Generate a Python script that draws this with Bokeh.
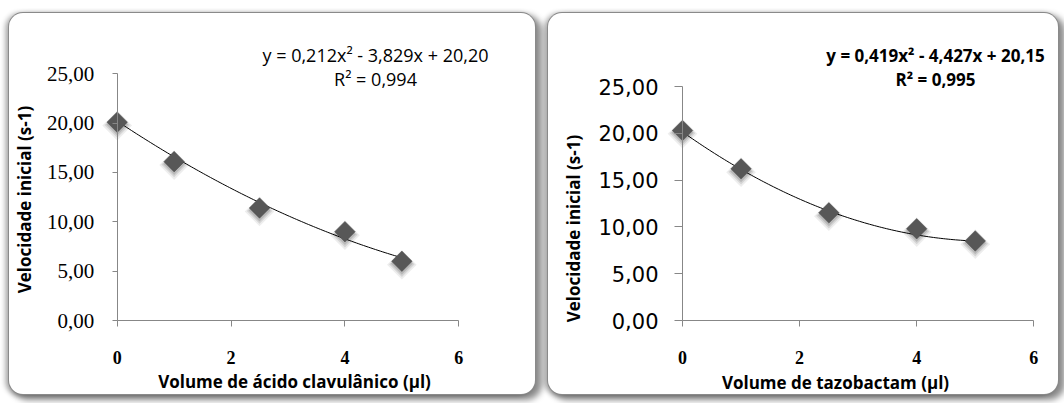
import numpy as np
from bokeh.plotting import figure
from bokeh.models import Range1d, FixedTicker, Label, ColumnDataSource
from bokeh.layouts import row
from bokeh.transform import dodge
from bokeh.embed import file_html
from bokeh.resources import INLINE

# ---------------- data ----------------
x_clav = [0, 1, 2.5, 4, 5]
y_clav = [20.1, 16.1, 11.4, 9.0, 6.0]
coef_clav = [0.212, -3.829, 20.20]
eq_clav = "y = 0,212x² - 3,829x + 20,20"
r2_clav = "R² = 0,994"
xtitle_clav = "Volume de ácido clavulânico (µl)"

x_tazo = [0, 1, 2.5, 4, 5]
y_tazo = [20.3, 16.2, 11.5, 9.8, 8.5]
coef_tazo = [0.419, -4.427, 20.15]
eq_tazo = "y = 0,419x² - 4,427x + 20,15"
r2_tazo = "R² = 0,995"
xtitle_tazo = "Volume de tazobactam (µl)"

ytitle = "Velocidade inicial (s-1)"

x_ticks = [0, 2, 4, 6]
x_tick_labels = ["0", "2", "4", "6"]
y_ticks = [0, 5, 10, 15, 20, 25]
y_tick_labels = ["0,00", "5,00", "10,00", "15,00", "20,00", "25,00"]

SANS = "Open Sans"
SERIF = "Liberation Serif"
AX = "#878787"


def make_panel(xs, ys, coef, eq, r2, xtitle, cfg):
    W, H = cfg["w"], cfg["h"]
    # pixel anchors (inside the panel) of x=0, x=6, y=0, y=25
    px0, px6, py0, py25 = cfg["px0"], cfg["px6"], cfg["py0"], cfg["py25"]
    kx = (px6 - px0) / 6.0
    ky = (py0 - py25) / 25.0
    xr = Range1d(-px0 / kx, (W - px0) / kx)
    yr = Range1d(-(H - py0) / ky, py0 / ky)
    p = figure(width=W, height=H, x_range=xr, y_range=yr,
               output_backend="svg", toolbar_location=None,
               min_border_left=0, min_border_right=0, min_border_top=0, min_border_bottom=0)
    p.grid.visible = False
    p.outline_line_color = None
    p.background_fill_color = None
    p.border_fill_color = None
    p.margin = cfg["margin"]
    p.styles = {
        "background-color": "white",
        "border-radius": "14px",
        "box-shadow": ("0 0 0 1px #8a8a8a, 5px 4px 6px 2px rgba(0,0,0,0.45), "
                       "-3px 1px 5px 1px rgba(0,0,0,0.3)"),
    }

    # axes
    xa = p.xaxis[0]
    xa.ticker = FixedTicker(ticks=x_ticks)
    xa.major_label_overrides = dict(zip(x_ticks, x_tick_labels))
    xa.fixed_location = 0
    xa.bounds = (0, 6)
    xa.axis_line_color = AX
    xa.major_tick_line_color = AX
    xa.major_tick_in = 0
    xa.major_tick_out = 6
    xa.minor_tick_line_color = None
    xa.major_label_standoff = cfg["xstand"]
    xa.major_label_text_font = SERIF
    xa.major_label_text_font_style = "bold"
    xa.major_label_text_font_size = "18px"
    xa.major_label_text_color = "black"

    ya = p.yaxis[0]
    ya.ticker = FixedTicker(ticks=y_ticks)
    ya.major_label_overrides = dict(zip(y_ticks, y_tick_labels))
    ya.fixed_location = 0
    ya.bounds = (0, 25)
    ya.axis_line_color = AX
    ya.major_tick_line_color = AX
    ya.major_tick_in = 0
    ya.major_tick_out = cfg["ytick"]
    ya.minor_tick_line_color = None
    ya.major_label_standoff = cfg["ystand"]
    ya.major_label_text_font = cfg["yfont"]
    ya.major_label_text_font_style = "normal"
    ya.major_label_text_font_size = cfg["ysize"]
    ya.major_label_text_color = "black"

    # trend line (from the fitted polynomial shown in the chart)
    xx = np.linspace(min(xs), max(xs), 120)
    yy = np.polyval(coef, xx)
    p.line(xx, yy, line_color="black", line_width=1)

    src = ColumnDataSource(dict(x=xs, y=ys))
    # soft shadow under markers
    for s, a, d in [(21, 0.07, -0.35), (18, 0.10, -0.3), (15.5, 0.13, -0.25)]:
        p.scatter(x="x", y=dodge("y", d, range=p.y_range), source=src, marker="square",
                  angle=np.pi / 4, size=s, fill_color="black", fill_alpha=a, line_color=None)
    p.scatter(x="x", y="y", source=src, marker="square", angle=np.pi / 4, size=14.5,
              fill_color="#575757", line_color="#4a4a4a", line_width=0.5)

    # texts (screen units relative to the panel's bottom-left corner)
    p.add_layout(Label(x=cfg["eqx"], y=cfg["eqy"], x_units="screen", y_units="screen", text=eq,
                       text_align="center", text_baseline="middle", text_font=SANS,
                       text_font_size=cfg["eqsize"], text_font_style=cfg["eqstyle"], text_color="black"))
    p.add_layout(Label(x=cfg["eqx"], y=cfg["eqy"] - 24, x_units="screen", y_units="screen", text=r2,
                       text_align="center", text_baseline="middle", text_font=SANS,
                       text_font_size=cfg["eqsize"], text_font_style=cfg["eqstyle"], text_color="black"))
    p.add_layout(Label(x=cfg["xtx"], y=cfg["xty"], x_units="screen", y_units="screen", text=xtitle,
                       text_align="center", text_baseline="middle", text_font=SANS,
                       text_font_size="17px", text_font_style="bold", text_color="black"))
    p.add_layout(Label(x=cfg["ytx"], y=cfg["yty"], x_units="screen", y_units="screen", text=ytitle,
                       angle=np.pi / 2, text_align="center", text_baseline="middle", text_font=SANS,
                       text_font_size="17px", text_font_style="bold", text_color="black"))
    return p


# panel 1: placed at (9, 13), 526 x 381
cfg1 = dict(w=526, h=381, px0=107.7, px6=449.3, py0=307, py25=60.3,
            margin=(13, 0, 0, 9), xstand=24, ytick=5, ystand=18, yfont=SERIF, ysize="21px",
            eqx=366, eqy=340, eqsize="18px", eqstyle="normal", xtx=285, xty=13, ytx=15, yty=195)
# panel 2: placed at (548, 13), 510 x 381
cfg2 = dict(w=510, h=381, px0=134, px6=485.3, py0=307, py25=73,
            margin=(13, 0, 0, 13), xstand=24, ytick=8, ystand=16, yfont="DejaVu Sans", ysize="21px",
            eqx=387, eqy=339, eqsize="17px", eqstyle="bold", xtx=287, xty=12, ytx=25, yty=166)

p1 = make_panel(x_clav, y_clav, coef_clav, eq_clav, r2_clav, xtitle_clav, cfg1)
p2 = make_panel(x_tazo, y_tazo, coef_tazo, eq_tazo, r2_tazo, xtitle_tazo, cfg2)

layout = row(p1, p2)
open("out.html", "w").write(file_html(layout, INLINE))
